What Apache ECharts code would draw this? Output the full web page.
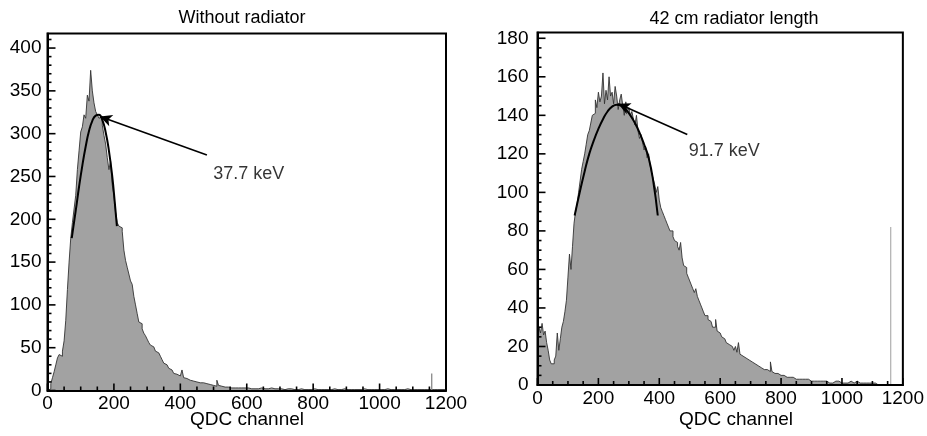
<!DOCTYPE html>
<html><head><meta charset="utf-8">
<script src="https://cdn.jsdelivr.net/npm/echarts@6/dist/echarts.min.js"></script>
<style>html,body{margin:0;padding:0;background:#fff}#c{width:927px;height:436px}</style>
</head><body><div id="c"></div>
<script>
// ---------------- data ----------------
const BIN = 5; // QDC channels per bin
const xMajorTicks = [0, 200, 400, 600, 800, 1000, 1200];
const xMinorStep = 50;

// "Without radiator": counts per 5-channel bin, 0..1195
const leftCounts = [
  0,2,8,15,22,30,38,42,40,46,58,82,118,150,178,196,212,228,258,280,
  302,308,322,318,345,338,374,350,336,326,322,318,320,310,298,288,272,258,268,240,
  228,208,196,192,190,186,164,152,144,136,128,124,110,100,90,80,78,72,67,64,
  60,56,53,51,50,46,44,42,40,36,32,30,28,26,24,22,20,19,18,17,
  16,24,15,14,13,12,12,11,11,10,10,9,10,9,8,8,8,7,7,6,
  6,5,12,6,5,5,4,4,4,4,3,4,3,3,3,4,3,3,3,3,
  3,3,2,3,2,3,2,2,3,2,2,2,2,2,3,2,2,2,2,2,
  2,2,1,2,2,1,2,2,1,2,1,2,2,1,1,2,1,2,1,1,
  2,1,1,2,1,1,1,2,1,1,1,1,2,1,1,1,1,1,2,1,
  1,1,1,2,1,1,1,1,1,1,2,1,1,1,1,1,1,1,1,1,
  1,1,1,1,2,1,1,1,1,1,1,1,1,1,1,1,2,1,1,1,
  1,1,1,1,1,1,1,1,1,1,1,1,1,1,1,1,1,1,1,1
];
const leftOverflowChannel = 1157;
const leftOverflowCount = 20;
const leftFit = [[73,178],[85,210],[95,238],[105,263],[115,285],[125,303],[135,315],[145,321],[155,322],[165,316],[175,302],[185,280],[195,250],[203,218],[209,192]];
const leftPeak = [158, 320];
const leftLabelAnchor = [480, 275];
const leftLabelPos = [499, 253];
const leftLabel = '37.7 keV';
const leftYMax = 417, leftYMajor = 50, leftYMinor = 10;

// "42 cm radiator length"
const rightCounts = [
  18,30,27,32,26,28,22,18,13,11,11,13,15,27,18,24,30,33,38,44,
  56,68,60,72,84,90,94,100,106,112,116,120,125,130,132,136,140,141,148,144,
  152,147,150,162,146,153,148,160,150,152,146,155,150,143,148,151,145,140,147,142,
  144,140,142,138,135,140,132,128,130,126,122,124,118,120,114,110,107,104,100,103,
  96,92,90,88,86,84,82,80,80,77,75,74,72,70,74,66,62,61,58,56,
  54,52,50,48,50,46,44,42,40,38,36,36,34,33,32,30,30,34,28,27,
  26,25,24,23,22,21,22,20,19,18,20,17,22,16,15,15,14,13,13,12,
  12,11,11,10,10,10,9,9,8,8,8,7,7,12,7,6,6,6,5,5,
  5,5,4,4,4,4,5,4,3,3,4,3,3,3,3,3,2,3,2,2,
  3,2,2,2,2,2,2,2,2,2,2,1,2,1,2,2,1,2,1,1,
  2,1,2,1,1,2,1,1,1,2,1,1,1,1,2,1,1,1,1,1,
  0,1,0,0,1,0,0,0,0,0,0,0,0,0,0,0,0,0,0,0
];
const rightOverflowChannel = 1160;
const rightOverflowCount = 82;
const rightFit = [[122,88],[140,101],[155,111],[170,120],[185,127],[200,133],[215,138],[230,142],[245,144.5],[260,145.5],[275,145],[290,143],[305,140],[320,136],[335,131],[350,125],[365,118],[380,106],[395,88]];
const rightPeak = [265, 146];
const rightLabelAnchor = [492, 130];
const rightLabelPos = [497, 121.5];
const rightLabel = '91.7 keV';
const rightYMax = 183, rightYMajor = 20, rightYMinor = 5;

// ---------------- chart ----------------
const FONT = "'Liberation Sans', Arial, Helvetica, sans-serif";
function steps(counts){
  const d = counts.map((v,i)=>[i*BIN, v]);
  d.push([counts.length*BIN, counts[counts.length-1]]);
  return d;
}
const chart = echarts.init(document.getElementById('c'), null, {renderer:'canvas'});

function xAx(gi){
  return {
    gridIndex: gi, type:'value', min:0, max:1200, interval:200, z:5,
    axisLine:{show:true, onZero:false, lineStyle:{color:'#000', width:2}},
    axisTick:{show:false}, minorTick:{show:false},
    axisLabel:{color:'#000', fontSize:19, fontFamily:FONT, margin:4, formatter: v => String(v)},
    splitLine:{show:false}
  };
}
function yAx(gi, max, interval, margin){
  return {
    gridIndex: gi, type:'value', min:0, max:max, interval:interval, z:5,
    axisLine:{show:true, onZero:false, lineStyle:{color:'#000', width:2}},
    axisTick:{show:false}, minorTick:{show:false},
    axisLabel:{color:'#000', fontSize:19, fontFamily:FONT, margin:margin, showMaxLabel:false, formatter: v => String(v)},
    splitLine:{show:false}
  };
}
function histSeries(gi, counts){
  return {type:'line', xAxisIndex:gi, yAxisIndex:gi, step:'end', symbol:'none', z:2,
    data: steps(counts), animation:false,
    lineStyle:{color:'#333', width:0.9}, areaStyle:{color:'#a2a2a2', opacity:1}};
}
function spikeSeries(gi, ch, val, color){
  return {type:'line', xAxisIndex:gi, yAxisIndex:gi, symbol:'none', z:3, animation:false,
    data:[[ch,0],[ch,val]], lineStyle:{color:color, width:1.3}};
}
function fitSeries(gi, pts, peak, anchor){
  return {type:'line', xAxisIndex:gi, yAxisIndex:gi, symbol:'none', smooth:true, z:4, animation:false,
    data: pts, lineStyle:{color:'#000', width:2},
    markLine:{silent:true, symbol:['arrow','none'], symbolSize:[9,12], animation:false,
      lineStyle:{color:'#000', width:1.6, type:'solid'}, label:{show:false},
      data:[[{coord:peak},{coord:anchor}]]}};
}
function labelSeries(gi, pos, text){
  return {type:'scatter', xAxisIndex:gi, yAxisIndex:gi, symbolSize:0, z:5, animation:false,
    data:[pos], label:{show:true, position:'right', distance:0, formatter:text,
      color:'#000', fontSize:18, fontFamily:FONT, verticalAlign:'middle'}};
}

chart.setOption({
  animation:false,
  backgroundColor:'#fff',
  grid:[
    {left:47.5, top:33.5, width:398.5, height:357, show:true, borderColor:'#000', borderWidth:2},
    {left:537.5, top:32.5, width:370, height:352.5, show:true, borderColor:'#000', borderWidth:2}
  ],
  xAxis:[xAx(0), xAx(1)],
  yAxis:[yAx(0, leftYMax, leftYMajor, 6), yAx(1, rightYMax, rightYMajor, 9)],
  series:[
    histSeries(0, leftCounts),
    spikeSeries(0, leftOverflowChannel, leftOverflowCount, '#888'),
    fitSeries(0, leftFit, leftPeak, leftLabelAnchor),
    labelSeries(0, leftLabelPos, leftLabel),
    histSeries(1, rightCounts),
    spikeSeries(1, rightOverflowChannel, rightOverflowCount, '#b5b5b5'),
    fitSeries(1, rightFit, rightPeak, rightLabelAnchor),
    labelSeries(1, rightLabelPos, rightLabel)
  ]
});

// inward tick marks, positioned through the library's axis scales
const graphics = [
  {type:'text', x:242, y:18, style:{text:'Without radiator', font:'18px '+FONT, fill:'#000', textAlign:'center', textVerticalAlign:'middle'}},
  {type:'text', x:734, y:19, style:{text:'42 cm radiator length', font:'18px '+FONT, fill:'#000', textAlign:'center', textVerticalAlign:'middle'}},
  {type:'text', x:247, y:420, style:{text:'QDC channel', font:'19px '+FONT, fill:'#000', textAlign:'center', textVerticalAlign:'middle'}},
  {type:'text', x:736, y:420, style:{text:'QDC channel', font:'19px '+FONT, fill:'#000', textAlign:'center', textVerticalAlign:'middle'}}
];
function addTicks(gi, yMax, yMajor, yMinor){
  const finder = {xAxisIndex:gi, yAxisIndex:gi};
  for (let v = 0; v <= 1200; v += xMinorStep) {
    const p = chart.convertToPixel(finder, [v, 0]);
    const len = xMajorTicks.indexOf(v) >= 0 ? 7 : 4;
    graphics.push({type:'line', z:100, silent:true, shape:{x1:p[0], y1:p[1], x2:p[0], y2:p[1]-len}, style:{stroke:'#000', lineWidth:1.6}});
  }
  for (let v = 0; v <= yMax; v += yMinor) {
    const p = chart.convertToPixel(finder, [0, v]);
    const len = v % yMajor === 0 ? 8 : 4;
    graphics.push({type:'line', z:100, silent:true, shape:{x1:p[0], y1:p[1], x2:p[0]+len, y2:p[1]}, style:{stroke:'#000', lineWidth:1.6}});
  }
}
addTicks(0, leftYMax, leftYMajor, leftYMinor);
addTicks(1, rightYMax, rightYMajor, rightYMinor);
chart.setOption({graphic: graphics});
</script>
</body></html>
